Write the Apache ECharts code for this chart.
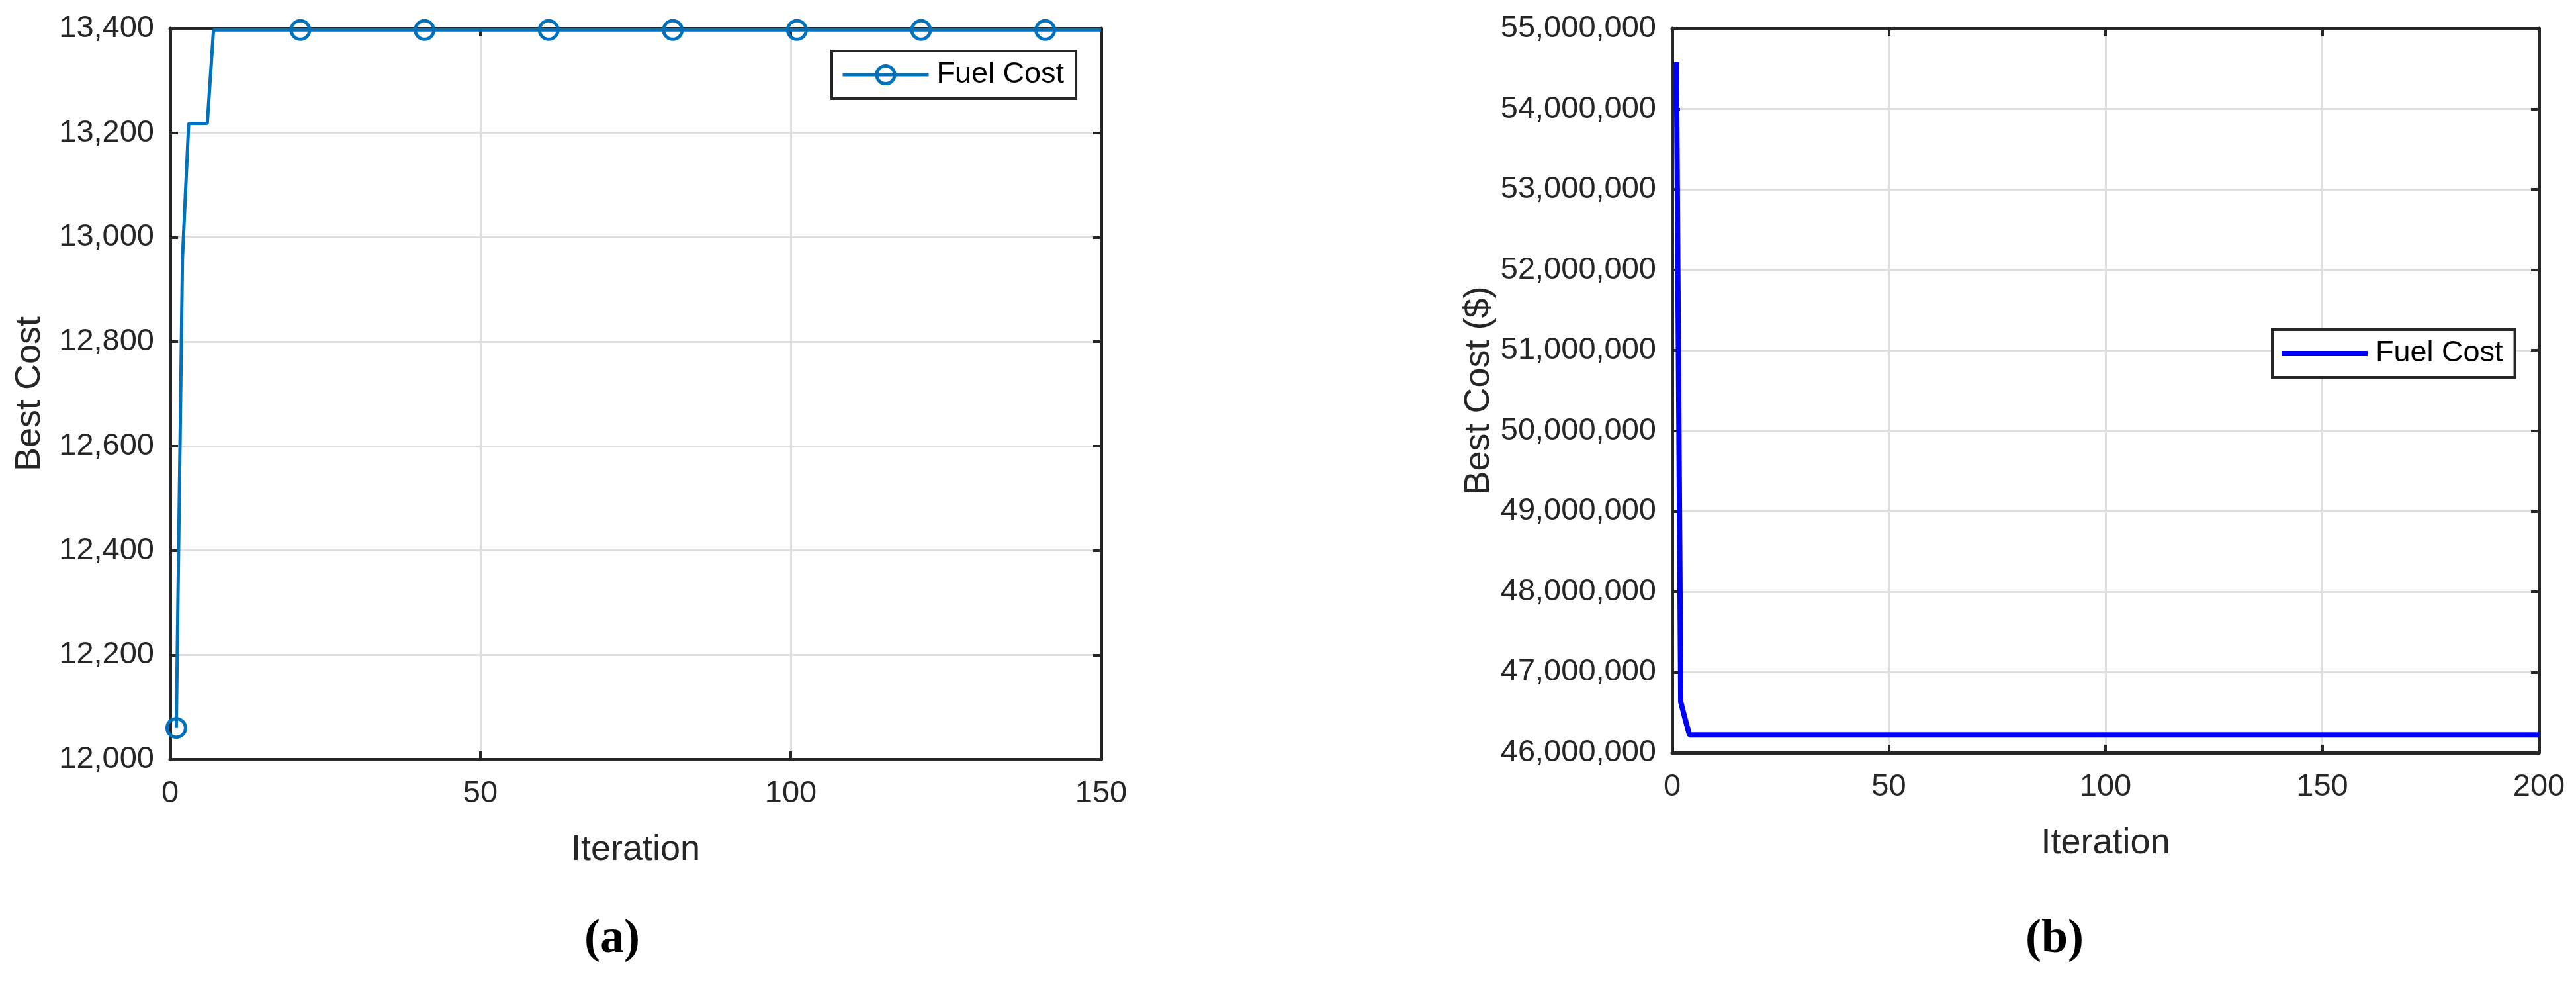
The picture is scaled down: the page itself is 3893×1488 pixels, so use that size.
<!DOCTYPE html>
<html>
<head>
<meta charset="utf-8">
<script src="https://cdn.jsdelivr.net/npm/echarts@6/dist/echarts.min.js"></script>
<style>
  html, body { margin: 0; padding: 0; background: #fff; }
  #chart { width: 3893px; height: 1488px; }
</style>
</head>
<body>
<div id="chart"></div>
<script>
// ---------- Data ----------
// Panel (a): best cost per iteration (change points and marker iterations)
const iterA = [1, 2, 3, 6, 7, 21, 41, 61, 81, 101, 121, 141, 150];
const costA = [12060, 12960, 13218, 13218, 13397, 13397, 13397, 13397, 13397, 13397, 13397, 13397, 13397];
const markerItersA = [1, 21, 41, 61, 81, 101, 121, 141];
const xTicksA = [0, 50, 100, 150];
const yTicksA = [12000, 12200, 12400, 12600, 12800, 13000, 13200, 13400];

// Panel (b): best cost ($) per iteration
const iterB = [1, 2, 3, 4, 200];
const costB = [54580000, 46630000, 46420000, 46220000, 46220000];
const xTicksB = [0, 50, 100, 150, 200];
const yTicksB = [46000000, 47000000, 48000000, 49000000, 50000000, 51000000, 52000000, 53000000, 54000000, 55000000];

const seriesName = 'Fuel Cost';
const xLabel = 'Iteration';
const yLabelA = 'Best Cost';
const yLabelB = 'Best Cost ($)';

// ---------- Styling ----------
const FONT = 'Liberation Sans, Arial, sans-serif';
const AX = '#262626';
const GRIDC = '#dfdfdf';
const COL_A = '#0072BD';
const COL_B = '#0000FF';
const fmt = v => Number(v).toLocaleString('en-US');

function axisPair(ticks, isX, gridIndex, name, nameGap) {
  const min = ticks[0], max = ticks[ticks.length - 1], interval = ticks[1] - ticks[0];
  const primary = {
    type: 'value', gridIndex, min, max, interval,
    position: isX ? 'bottom' : 'left',
    name,
    nameLocation: 'middle', nameGap,
    nameTextStyle: { fontFamily: FONT, fontSize: 54, color: AX },
    axisLine: { show: true, onZero: false, lineStyle: { color: AX, width: 5 } },
    axisTick: { show: true, inside: true, length: 12, lineStyle: { color: AX, width: 4 } },
    axisLabel: { show: true, margin: isX ? 29 : 24, formatter: fmt, fontFamily: FONT, fontSize: 47, color: AX },
    splitLine: { show: true, lineStyle: { color: GRIDC, width: 3 } }
  };
  const mirror = {
    type: 'value', gridIndex, min, max, interval,
    position: isX ? 'top' : 'right',
    axisLine: { show: true, onZero: false, lineStyle: { color: AX, width: 5 } },
    axisTick: { show: true, inside: true, length: 12, lineStyle: { color: AX, width: 4 } },
    axisLabel: { show: false },
    splitLine: { show: false }
  };
  return [primary, mirror];
}

const [xA, xAt] = axisPair(xTicksA, true, 0, xLabel, 110);
const [yA, yAr] = axisPair(yTicksA, false, 0, yLabelA, 185);
const [xB, xBt] = axisPair(xTicksB, true, 1, xLabel, 110);
const [yB, yBr] = axisPair(yTicksB, false, 1, yLabelB, 265);

const dataA = iterA.map((it, i) => ({
  value: [it, costA[i]],
  symbol: markerItersA.includes(it) ? 'circle' : 'none'
}));
const dataB = iterB.map((it, i) => [it, costB[i]]);

const subTitle = (letter, x) => ({
  text: '{p|(}{b|' + letter + '}{p|)}', left: x, top: 1378, textAlign: 'center',
  textStyle: { rich: {
    p: { fontFamily: 'Liberation Serif, Times New Roman, serif', fontSize: 72, color: '#000' },
    b: { fontFamily: 'Liberation Serif, Times New Roman, serif', fontSize: 72, fontWeight: 'bold', color: '#000' }
  } }
});

const legendBase = {
  orient: 'horizontal',
  formatter: () => seriesName,
  itemWidth: 130,
  padding: [10, 18, 10, 14],
  borderColor: AX, borderWidth: 4, backgroundColor: '#fff',
  textStyle: { fontFamily: FONT, fontSize: 45, color: '#000', lineHeight: 52, padding: [0, 0, 0, 7] }
};

const chart = echarts.init(document.getElementById('chart'), null, { renderer: 'canvas' });
chart.setOption({
  animation: false,
  backgroundColor: '#ffffff',
  title: [subTitle('a', 920), subTitle('b', 3100)],
  grid: [
    { left: 257, right: 3893 - 1664, top: 43, bottom: 1488 - 1147, containLabel: false },
    { left: 2527, right: 3893 - 3837, top: 43, bottom: 1488 - 1137, containLabel: false }
  ],
  xAxis: [xA, xAt, xB, xBt],
  yAxis: [yA, yAr, yB, yBr],
  legend: [
    Object.assign({}, legendBase, {
      data: ['A'], left: 1257, top: 77, itemHeight: 34,
      lineStyle: { width: 5, color: COL_A },
      itemStyle: { color: 'rgba(255,255,255,0)', borderColor: COL_A, borderWidth: 5 }
    }),
    Object.assign({}, legendBase, {
      data: [{ name: 'B', icon: 'rect' }], left: 3434, top: 498, itemHeight: 8,
      itemStyle: { color: COL_B, borderWidth: 0 },
      textStyle: Object.assign({}, legendBase.textStyle, { lineHeight: 52 })
    })
  ],
  series: [
    {
      name: 'A', type: 'line', xAxisIndex: 0, yAxisIndex: 0,
      data: dataA, symbol: 'circle', symbolSize: 28, showAllSymbol: true,
      lineStyle: { color: COL_A, width: 5 },
      itemStyle: { color: 'rgba(255,255,255,0)', borderColor: COL_A, borderWidth: 5 },
      emphasis: { disabled: true }, z: 5
    },
    {
      name: 'B', type: 'line', xAxisIndex: 2, yAxisIndex: 2,
      data: dataB, symbol: 'none',
      lineStyle: { color: COL_B, width: 8 },
      itemStyle: { color: COL_B },
      emphasis: { disabled: true }, z: 5
    }
  ]
});
</script>
</body>
</html>
